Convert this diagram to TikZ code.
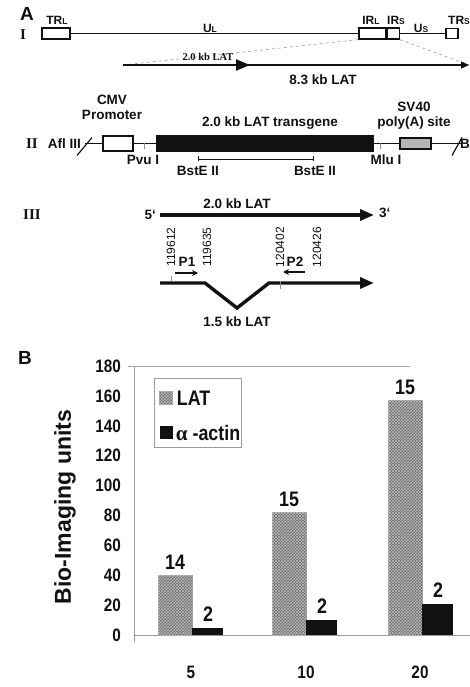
\documentclass[tikz,border=0pt]{standalone}
\usepackage{fontspec}
\setmainfont{Liberation Sans}
\newfontfamily\serifbf{Liberation Serif}
\newfontfamily\narrowsf[FakeStretch=0.85]{Liberation Sans}
\usepackage{xcolor}
\usepackage{tikz}
\usetikzlibrary{arrows.meta, positioning, calc, patterns}
\definecolor{ink}{HTML}{111111}
\definecolor{guide}{HTML}{A8A8A8}
\definecolor{axisgray}{HTML}{9A9A9A}
\definecolor{hatchbase}{HTML}{6A6A6A}
\definecolor{hatchline}{HTML}{BDBDBD}
\definecolor{polyfill}{HTML}{B5B5B5}
\definecolor{tickgray}{HTML}{8A8A8A}
\newcommand\lowcap[1]{{\fontsize{8.5}{9}\selectfont #1}}
\tikzset{
  seg/.style       = {draw=ink, line width=1.2pt, rectangle, inner sep=0pt, minimum height=11pt},
  dna/.style       = {draw=ink, line width=1.2pt},
  guideline/.style = {draw=guide, line width=0.7pt, dashed},
  thinarrow/.style = {-{Triangle[length=8pt, width=7pt]}, draw=ink, line width=1.3pt},
  fatarrow/.style  = {-{Triangle[length=14pt, width=11pt]}, draw=ink, line width=3.4pt},
  primer/.style    = {-{Stealth[length=6pt, width=6pt]}, draw=ink, line width=1.4pt},
  tickmark/.style  = {draw=tickgray, line width=0.6pt},
  lbl/.style       = {font=\bfseries\fontsize{13.5}{15}\selectfont, text=ink, align=center, inner sep=1pt},
  maplbl/.style    = {font=\bfseries\fontsize{12}{12}\selectfont, text=ink, inner sep=1pt},
  roman/.style     = {font=\serifbf\bfseries\fontsize{15}{15}\selectfont, text=ink},
  panel/.style     = {font=\bfseries\fontsize{19}{19}\selectfont, text=ink},
  coordlbl/.style  = {font=\fontsize{12}{12}\selectfont, text=ink, inner sep=0pt},
  axislbl/.style   = {font=\narrowsf\bfseries\fontsize{18}{18}\selectfont, text=ink},
  barlbl/.style    = {font=\narrowsf\bfseries\fontsize{21}{21}\selectfont, text=ink},
  latbar/.style    = {fill=hatchbase, draw=axisgray, line width=0.4pt,
                      postaction={pattern=crosshatch, pattern color=hatchline}},
  actbar/.style    = {fill=ink},
}

\begin{document}
\begin{tikzpicture}[x=1pt, y=-1pt]
  \useasboundingbox (0,0) rectangle (470,687);

  % A / I : genome map
  \node[panel] (pa) at (27,14) {A};
  \node[roman] (r1) at (23,35) {I};
  \node[seg, minimum width=28pt] (trl) at (56,33.5) {};
  \node[seg, minimum width=27pt] (irl) at (372.5,33.5) {};
  \node[seg, minimum width=12pt, right=0pt of irl] (irs) {};
  \node[seg, minimum width=12pt, minimum height=10pt] (trs) at (452,33.5) {};
  \draw[dna] (trl) -- (irl);
  \draw[dna] (irs) -- (trs);

  \node[maplbl] (ltrl) at (57,20) {TR\lowcap{L}};
  \node[maplbl] (lul) at (210,28) {U\lowcap{L}};
  \node[maplbl] (lirl) at (371,20) {IR\lowcap{L}};
  \node[maplbl] (lirs) at (396,20) {IR\lowcap{S}};
  \node[maplbl] (lus) at (421,28) {U\lowcap{S}};
  \node[maplbl] (ltrs) at (459,20) {TR\lowcap{S}};

  \coordinate (lat83s) at (123,65);
  \coordinate (lat83e) at (469,65);
  \coordinate (lat20s) at (183,65);
  \coordinate (lat20e) at (250,65);
  \draw[guideline] (irl.south west) -- (lat83s);
  \draw[guideline] (irs.south east) -- (lat83e);
  \draw[thinarrow] (lat83s) -- (lat83e);
  \draw[fatarrow, line width=2.2pt] (lat20s) -- (lat20e);
  \node[font=\serifbf\bfseries\fontsize{10.5}{11}\selectfont, text=ink] (l20) at (208,57) {2.0 kb LAT};
  \node[lbl] (l83) at (323,80) {8.3 kb LAT};

  % II : transgene construct
  \node[roman] (r2) at (32,143.5) {II};
  \node[lbl, anchor=east] (afl) at (82,143.5) {Afl III};
  \coordinate (aflcut) at (85,143.5);
  \coordinate (bcut) at (462,143.5);
  \node[seg, minimum width=30pt, minimum height=15pt] (cmv) at (118,143.5) {};
  \node[seg, fill=ink, minimum width=216pt, minimum height=16pt] (lattg) at (265,143.5) {};
  \node[seg, fill=polyfill, minimum width=31pt] (sv40) at (415.5,143.5) {};
  \draw[dna] (aflcut) -- (cmv);
  \draw[dna] (cmv) -- (lattg);
  \draw[dna] (lattg) -- (sv40);
  \draw[dna] (sv40) -- (bcut);
  \draw[dna] ($(aflcut)+(-8,12)$) -- ($(aflcut)+(7,-6)$);
  \draw[dna] ($(bcut)+(-10,12)$) -- ($(bcut)+(0,-6)$);
  \node[lbl, anchor=east, inner sep=0pt] (bsite) at (470,143.5) {B};

  \node[lbl] (lcmv) at (112,107) {CMV\\Promoter};
  \node[lbl] (ltg) at (270,123) {2.0 kb LAT transgene};
  \node[lbl] (lsv) at (414,116) {SV40\\poly(A) site};

  \coordinate (pvu) at (144,143.5);
  \coordinate (mlu) at (380,143.5);
  \draw[tickmark] (pvu) -- ++(0,6);
  \draw[tickmark] (mlu) -- ++(0,6);
  \node[lbl] (lpvu) at (143,160) {Pvu I};
  \node[lbl] (lmlu) at (386,160) {Mlu I};

  \coordinate (bst1) at (198,159);
  \coordinate (bst2) at (314,159);
  \draw[{Bar[width=5pt]}-{Bar[width=5pt]}, draw=ink, line width=0.8pt] (bst1) -- (bst2);
  \node[lbl] (lbst1) at (198,171) {BstE II};
  \node[lbl] (lbst2) at (315,171) {BstE II};

  % III : transcripts and primers
  \node[roman] (r3) at (32,215) {III};
  \coordinate (t5) at (160,215);
  \coordinate (t3) at (374,215);
  \draw[fatarrow] (t5) -- (t3);
  \node[lbl, anchor=east] (five) at (157,215) {5`};
  \node[lbl, anchor=west] (three) at (378,213) {3`};
  \node[lbl] (lfull) at (237,204) {2.0 kb LAT};

  \coordinate (s0) at (160,283);
  \coordinate (s1) at (205,283);
  \coordinate (s2) at (237,308);
  \coordinate (s3) at (269,283);
  \coordinate (s4) at (374,283);
  \draw[fatarrow] (s0) -- (s1) -- (s2) -- (s3) -- (s4);
  \node[lbl] (lspl) at (237,322) {1.5 kb LAT};

  \foreach \xx/\num in {171/119612, 207/119635, 280/120402, 317/120426}
    \node[coordlbl, rotate=90] (n\num) at (\xx,247) {\num};
  \draw[tickmark] (n119612.west) ++(0,9) -- ++(0,5);
  \draw[tickmark] (n120402.west) ++(0,14) -- ++(0,8);

  \coordinate (p1s) at (175,273);
  \coordinate (p1e) at (198,273);
  \coordinate (p2s) at (305,272);
  \coordinate (p2e) at (283,272);
  \draw[primer] (p1s) -- (p1e);
  \draw[primer] (p2s) -- (p2e);
  \node[lbl] (lp1) at (187,262) {P1};
  \node[lbl] (lp2) at (295,262) {P2};

  % B : bar chart
  \node[panel] (pb) at (25,358) {B};
  \node[font=\bfseries\fontsize{23}{23}\selectfont, text=ink, rotate=90] (ylab) at (65,507) {Bio-Imaging units};

  \begin{scope}[shift={(0,635)}, y=1.494pt]
    \draw[draw=guide, line width=0.6pt] (128,180) -- (410,180);
    \draw[draw=axisgray, line width=0.8pt] (134,180) -- (134,-5);
    \draw[draw=axisgray, line width=0.8pt] (134,0) -- (470,0);
    \foreach \v in {0,20,...,180}
      \node[axislbl, anchor=east, inner sep=0pt] (tk\v) at (121,\v) {\v};

    \foreach \xx/\lat/\act/\nlat/\nact [count=\g] in {158/40/5/14/2, 272/82/10/15/2, 388/157/21/15/2} {
      \path[latbar] (\xx,0) rectangle ++(34,\lat);
      \path[actbar] (\xx+34,0) rectangle ++(31,\act);
      \node[barlbl, anchor=south, inner sep=6pt] (nl\g) at (\xx+17,\lat) {\nlat};
      \node[barlbl, anchor=south, inner sep=6pt] (na\g) at (\xx+50,\act) {\nact};
    }
  \end{scope}

  \node[axislbl] (x5) at (191,672) {5};
  \node[axislbl] (x10) at (306,672) {10};
  \node[axislbl] (x20) at (420,672) {20};

  \node[draw=axisgray, line width=0.8pt, minimum width=87pt, minimum height=69pt, inner sep=0pt] (legend) at (197.5,412.5) {};
  \node[latbar, minimum size=13pt, inner sep=0pt] (keylat) at (166,398) {};
  \node[actbar, minimum size=13pt, inner sep=0pt] (keyact) at (166,432.5) {};
  \node[barlbl, anchor=west, inner sep=4pt] (keylattxt) at (keylat.east) {LAT};
  \node[barlbl, anchor=west, inner sep=3pt] (keyacttxt) at (keyact.east) {{\serifbf α} -actin};
\end{tikzpicture}
\end{document}
